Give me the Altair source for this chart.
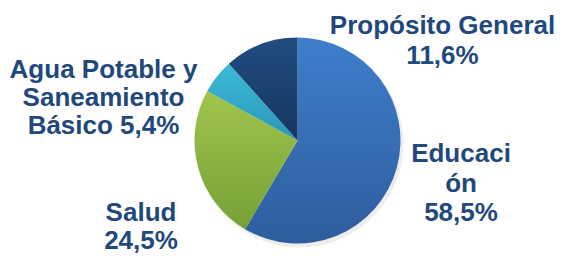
import altair as alt
import pandas as pd

# ---- data ----
categories = ["Educación", "Salud", "Agua Potable y Saneamiento Básico", "Propósito General"]
values = [58.5, 24.5, 5.4, 11.6]
label_texts = ["Educaci\nón\n58,5%", "Salud\n24,5%", "Agua Potable y\nSaneamiento\nBásico 5,4%", "Propósito General\n11,6%"]
order = [0, 1, 2, 3]

df = pd.DataFrame({"cat": categories, "value": values, "label": label_texts, "ord": order})
total = sum(values)

# ---- styling / layout ----
grad = {
    "Educación": ("#3E7ECC", "#2E5D9C"),
    "Salud": ("#A0C54D", "#76A036"),
    "Agua Potable y Saneamiento Básico": ("#3DBBDA", "#2A97B6"),
    "Propósito General": ("#204C80", "#15365E"),
}
# (x, first baseline y, line height)
label_pos = {
    "Educación": (453, 154, 29.5),
    "Salud": (133, 213, 28),
    "Agua Potable y Saneamiento Básico": (95.5, 69.5, 28),
    "Propósito General": (434.5, 26, 29.5),
}
CX, CY, R = 289.5, 132.5, 103
TEXT_COLOR = "#1F497D"

base = alt.Chart(df).transform_window(
    end="sum(value)", sort=[alt.SortField("ord")], frame=[None, 0]
).transform_calculate(start="datum.end - datum.value")

theta_enc = alt.Theta("start:Q", scale=alt.Scale(domain=[0, total]))
theta2_enc = alt.Theta2("end:Q")

shadow = alt.Chart(df).mark_arc(radius=R + 1, fill="#000000", opacity=0.07).encode(
    theta=alt.Theta("value:Q", stack=True),
    x=alt.value(CX + 2), y=alt.value(CY + 3),
)

layers = [shadow]
for c in categories:
    top, bot = grad[c]
    layers.append(
        base.transform_filter(alt.datum.cat == c).mark_arc(
            radius=R,
            fill={
                "gradient": "linear",
                "x1": 0, "y1": 0, "x2": 0, "y2": 1,
                "stops": [{"offset": 0, "color": top}, {"offset": 1, "color": bot}],
            },
        ).encode(theta=theta_enc, theta2=theta2_enc, x=alt.value(CX), y=alt.value(CY))
    )

for c in categories:
    px, py, lh = label_pos[c]
    layers.append(
        alt.Chart(df).transform_filter(alt.datum.cat == c).mark_text(
            font="Liberation Sans", fontWeight="bold", fontSize=26,
            color=TEXT_COLOR, align="center", baseline="alphabetic",
            lineBreak="\n", lineHeight=lh,
        ).encode(text="label:N", x=alt.value(px), y=alt.value(py))
    )

chart = alt.layer(*layers).properties(
    width=547, height=247, padding=0, autosize=alt.AutoSizeParams(type="none")
).configure_view(stroke=None)

chart.save("out.html", embed_options={"renderer": "svg", "actions": False})
